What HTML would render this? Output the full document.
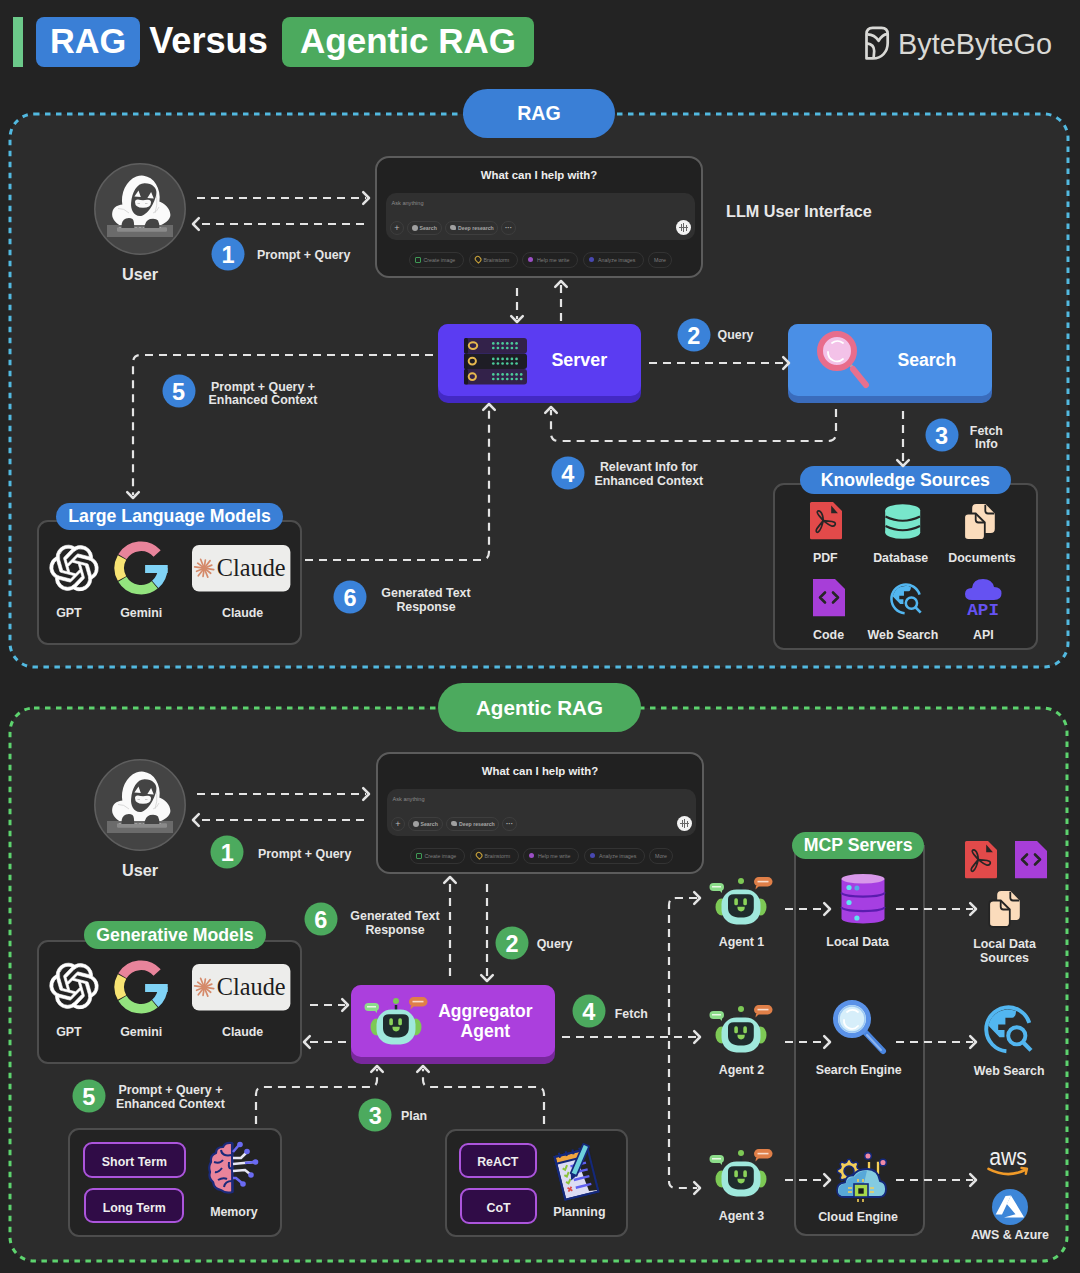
<!DOCTYPE html>
<html><head><meta charset="utf-8"><style>
*{margin:0;padding:0;box-sizing:border-box}
html,body{width:1080px;height:1273px;overflow:hidden;background:#232323}
body{position:relative;font-family:"Liberation Sans",sans-serif;color:#e8e8e8;font-weight:bold}
.a{position:absolute}
.c{position:absolute;transform:translate(-50%,calc(-50% + 0.6px));white-space:nowrap;text-align:center}
.l{position:absolute;transform:translate(0,calc(-50% + 0.6px));white-space:nowrap}
.lbl{font-size:12.4px;line-height:14px;color:#e6e6e6}
.num{position:absolute;width:33px;height:33px;border-radius:50%;transform:translate(-50%,-50%);color:#fff;font-size:23.5px;line-height:35px;text-align:center}
.nb{background:#3a82d9}
.ng{background:#4caa5e}
.box{position:absolute;border:2px solid #4d4d4d;border-radius:11px;background:#232323}
.pill{position:absolute;border-radius:15px;color:#fff;font-size:17.7px;text-align:center;white-space:nowrap}
.pb{background:#3a7fd6}
.pg{background:#4caa5e}
.tag{position:absolute;border:2px solid #ac55dc;background:#300c47;border-radius:9px;color:#eee;font-size:12.4px;text-align:center}
svg{position:absolute;left:0;top:0;overflow:visible}
.chat{width:328px;height:122px;border:2px solid #5c5c5c;border-radius:14px;background:#212121}
.cb{border:1px solid #333;border-radius:8px}
.cbi{border-color:#3e3e3e}
.dot{position:absolute;top:3.5px;width:5px;height:5px;border-radius:3px}
.ct{position:absolute;top:3px;font-size:5.3px;line-height:6px;color:#7e7e7e;font-weight:normal;white-space:nowrap}
.ctb{color:#a6a6a6;font-weight:bold;font-size:5.2px}
</style></head><body>
<svg width="1080" height="1273">
  <rect x="10" y="114" width="1058" height="553" rx="24" fill="#2c2c2c" stroke="#52b9e0" stroke-width="3" stroke-dasharray="5.5 5.5"/>
  <rect x="10" y="708" width="1057" height="553" rx="24" fill="#2c2c2c" stroke="#5dd36e" stroke-width="3" stroke-dasharray="5.5 5.5"/>
</svg>
<div class="a" style="left:13px;top:17px;width:10px;height:50px;background:#6cc98a"></div>
<div class="a" style="left:36px;top:17px;width:104px;height:50px;background:#3a7fd6;border-radius:8px"></div>
<div class="c" style="left:88px;top:40.2px;font-size:34.3px;line-height:36px;color:#fff">RAG</div>
<div class="c" style="left:208.5px;top:40px;font-size:36.2px;line-height:36px;color:#fff">Versus</div>
<div class="a" style="left:282px;top:17px;width:252px;height:50px;background:#4caa5e;border-radius:8px"></div>
<div class="c" style="left:408px;top:40.2px;font-size:35px;line-height:36px;color:#fff">Agentic RAG</div>
<svg style="left:860px;top:22px" width="35" height="40" viewBox="0 0 35 40">
<path d="M6.5,36.4 V12 Q6.5,5.8 12.7,5.8 H21.5 Q27.7,5.8 27.7,12 V21 C27.7,30 21.5,36.4 13,36.4 Z" fill="none" stroke="#d9d9d6" stroke-width="2.7" stroke-linejoin="round"/>
<path d="M7.5,12.4 Q14.5,12.6 18.6,18.8 Q22.5,12.6 27,12.2" fill="none" stroke="#d9d9d6" stroke-width="2.7" stroke-linejoin="round"/>
<path d="M7,21.3 Q14.2,22.2 14.2,29 L13.6,36.2" fill="none" stroke="#d9d9d6" stroke-width="2.7"/>
</svg>
<div class="l" style="left:898px;top:43px;font-size:28.9px;line-height:32px;color:#d9d9d5;font-weight:normal">ByteByteGo</div>
<div class="pill pb" style="left:463px;top:89px;width:152px;height:49px;border-radius:25px;line-height:49px;font-size:19.6px">RAG</div>
<svg class="ic" style="left:94px;top:163px" width="92" height="92" viewBox="0 0 92 92">
<circle cx="46" cy="46" r="45.2" fill="#444" stroke="#5e5e5e" stroke-width="1.5"/>
<path d="M26,62.5 C21,59.5 17.5,55 18.2,50 C19,44 24,41.3 32,41.3 L64,38.3 C71,40 76.4,46 76.4,52 C76.4,57 70,61 64.5,63 Z" fill="#fafafa"/>
<ellipse cx="46.8" cy="36" rx="18.8" ry="23.5" transform="rotate(7 46.8 36)" fill="#fafafa"/>
<path d="M58,24 Q66,34 61,50" fill="none" stroke="#cfcfcf" stroke-width="0.8"/>
<path d="M24,45.5 Q30,45 35,50" fill="none" stroke="#cfcfcf" stroke-width="0.8"/>
<path d="M65,44 Q63,49 59,50" fill="none" stroke="#cfcfcf" stroke-width="0.7"/>
<path d="M50.4,20.2 C58,20 63.5,25 62.3,31 C61,40 53,53 46,53.1 C39.5,53 36.5,46 37.1,40 C38,29 43,20.3 50.4,20.2 Z" fill="#444"/>
<path d="M40.4,33.6 L44.5,27.4 L46.8,33.9 Z" fill="#fafafa"/>
<path d="M53.4,35 L57.1,29 L59.8,35.4 Z" fill="#fafafa"/>
<path d="M41,39 Q41,36.3 44,36.5 Q48.5,37.8 53,36.8 Q57,36.2 57,39.5 Q57,44.8 49,44.8 Q41,44.8 41,39 Z" fill="#fafafa"/>
<path d="M43.5,40.5 H46 M51,40.5 H53.5" stroke="#c4c4c4" stroke-width="0.9"/>
<rect x="13" y="62" width="66" height="12" fill="#6b6b6b"/>
<rect x="23" y="64.3" width="50" height="4.4" rx="1.2" fill="#8a8a8a"/>
<path d="M25,64.5 h2 M29,64.5 h2 M33,64.5 h2 M37,64.5 h2 M41,64.5 h2 M45,64.5 h2 M49,64.5 h2 M53,64.5 h2 M57,64.5 h2 M61,64.5 h2 M65,64.5 h2" stroke="#a0a0a0" stroke-width="1.2"/>
<path d="M27.5,65 Q27,57 32,55.5 Q36,54.5 38.5,56 Q40.5,58 40,65 Z" fill="#444"/>
<path d="M50.4,65 Q51,57.5 56,56 Q62,55 64,57.5 Q65.5,60 65.3,65 Z" fill="#444"/>
</svg>
<div class="c" style="left:140px;top:273px;font-size:16.3px;line-height:18px">User</div>
<div class="num nb" style="left:228px;top:253.7px">1</div>
<div class="l lbl" style="left:257px;top:253.9px;">Prompt + Query</div>

<div class="a chat" style="left:375px;top:156px">
  <div class="c" style="left:162px;top:17px;font-size:11.4px;line-height:13px;color:#eee">What can I help with?</div>
  <div class="a" style="left:9px;top:35px;width:309px;height:47px;background:#303030;border-radius:10px"></div>
  <div class="l" style="left:14.5px;top:45px;font-size:5.6px;line-height:7px;color:#8a8a8a;font-weight:normal">Ask anything</div>
  <div class="a cb cbi" style="left:13px;top:62.5px;width:14px;height:14px;border-radius:7px;font-size:9px;line-height:12px;text-align:center;color:#bbb;font-weight:normal">+</div>
  <div class="a cb cbi" style="left:30px;top:62.5px;width:35px;height:14px"><span class="dot" style="background:#a0a0a0;left:3.5px;top:3px;width:6px;height:6px"></span><span class="ct ctb" style="left:11.5px;top:3.5px">Search</span></div>
  <div class="a cb cbi" style="left:68px;top:62.5px;width:53px;height:14px"><span class="dot" style="background:#a0a0a0;left:3.5px;top:3px;width:6px;height:5.5px;border-radius:2px 3px 1px 3px"></span><span class="ct ctb" style="left:12px;top:3.5px">Deep research</span></div>
  <div class="a cb cbi" style="left:124px;top:62.5px;width:15px;height:14px;border-radius:7px;font-size:7px;line-height:11px;text-align:center;color:#bbb">&middot;&middot;&middot;</div>
  <div class="a" style="left:298.5px;top:62px;width:15px;height:15px;border-radius:8px;background:#f2f2f2"></div>
  <div class="a" style="left:301.5px;top:68.8px;width:9px;height:1.4px;background:#666"></div>
  <div class="a" style="left:303.5px;top:66px;width:1.3px;height:7px;background:#666"></div>
  <div class="a" style="left:306px;top:65px;width:1.3px;height:9px;background:#666"></div>
  <div class="a" style="left:308.5px;top:66.5px;width:1.3px;height:6px;background:#666"></div>
  <div class="a cb" style="left:31.5px;top:93.5px;width:55px;height:16px"><span class="dot" style="background:none;border:1.3px solid #3f9a55;left:5px;top:4px;width:6px;height:6px;border-radius:1px"></span><span class="ct" style="left:14px;top:4.5px">Create image</span></div>
  <div class="a cb" style="left:91.5px;top:93.5px;width:49px;height:16px"><span class="dot" style="background:none;border:1.3px solid #c9a23a;left:5px;top:3.8px;width:5.5px;height:6.5px;border-radius:3px 3px 3px 0;transform:rotate(-45deg)"></span><span class="ct" style="left:14px;top:4.5px">Brainstorm</span></div>
  <div class="a cb" style="left:145px;top:93.5px;width:56px;height:16px"><span class="dot" style="background:#9b4fc4;left:5px;top:4.5px"></span><span class="ct" style="left:14px;top:4.5px">Help me write</span></div>
  <div class="a cb" style="left:206px;top:93.5px;width:61px;height:16px"><span class="dot" style="background:#4848b0;left:5px;top:4.5px"></span><span class="ct" style="left:14px;top:4.5px">Analyze images</span></div>
  <div class="a cb" style="left:271px;top:93.5px;width:24px;height:16px"><span class="ct" style="left:5px;top:4.5px">More</span></div>
</div>
<div class="l" style="left:726px;top:209.7px;font-size:16.2px;line-height:18px">LLM User Interface</div>
<div class="a" style="left:437.5px;top:324px;width:203.5px;height:79px;background:#4329c4;border-radius:10px"></div>
<div class="a" style="left:437.5px;top:324px;width:203.5px;height:71.5px;background:#5b3cf2;border-radius:10px"></div>
<svg class="ic" style="left:463.6px;top:337.8px" width="63" height="47" viewBox="0 0 63 47"><rect x="0" y="0" width="63" height="15.5" rx="3" fill="#33224a"/><rect x="0" y="0" width="4" height="15.5" rx="1.5" fill="#1b1822"/><ellipse cx="9" cy="7.6" rx="4.2" ry="3.4" fill="none" stroke="#e6b84e" stroke-width="2"/><circle cx="29.30" cy="5.4" r="1.35" fill="#4ccb9a"/><circle cx="33.95" cy="5.4" r="1.35" fill="#4ccb9a"/><circle cx="38.60" cy="5.4" r="1.35" fill="#4ccb9a"/><circle cx="43.25" cy="5.4" r="1.35" fill="#4ccb9a"/><circle cx="47.90" cy="5.4" r="1.35" fill="#4ccb9a"/><circle cx="52.55" cy="5.4" r="1.35" fill="#4ccb9a"/><circle cx="29.30" cy="10.0" r="1.35" fill="#4ccb9a"/><circle cx="33.95" cy="10.0" r="1.35" fill="#4ccb9a"/><circle cx="38.60" cy="10.0" r="1.35" fill="#4ccb9a"/><circle cx="43.25" cy="10.0" r="1.35" fill="#4ccb9a"/><circle cx="47.90" cy="10.0" r="1.35" fill="#4ccb9a"/><circle cx="52.55" cy="10.0" r="1.35" fill="#4ccb9a"/><rect x="0" y="15.5" width="63" height="15.5" rx="3" fill="#1e1d25"/><rect x="0" y="15.5" width="4" height="15.5" rx="1.5" fill="#1b1822"/><ellipse cx="8.3" cy="23.1" rx="3.6" ry="3.4" fill="none" stroke="#e6b84e" stroke-width="2"/><circle cx="29.30" cy="20.9" r="1.35" fill="#4ccb9a"/><circle cx="33.95" cy="20.9" r="1.35" fill="#4ccb9a"/><circle cx="38.60" cy="20.9" r="1.35" fill="#4ccb9a"/><circle cx="43.25" cy="20.9" r="1.35" fill="#4ccb9a"/><circle cx="47.90" cy="20.9" r="1.35" fill="#4ccb9a"/><circle cx="52.55" cy="20.9" r="1.35" fill="#4ccb9a"/><circle cx="29.30" cy="25.5" r="1.35" fill="#4ccb9a"/><circle cx="33.95" cy="25.5" r="1.35" fill="#4ccb9a"/><circle cx="38.60" cy="25.5" r="1.35" fill="#4ccb9a"/><circle cx="43.25" cy="25.5" r="1.35" fill="#4ccb9a"/><circle cx="47.90" cy="25.5" r="1.35" fill="#4ccb9a"/><circle cx="52.55" cy="25.5" r="1.35" fill="#4ccb9a"/><rect x="0" y="31" width="63" height="15.5" rx="3" fill="#33224a"/><rect x="0" y="31" width="4" height="15.5" rx="1.5" fill="#1b1822"/><ellipse cx="8.3" cy="38.6" rx="3.6" ry="3.4" fill="none" stroke="#e6b84e" stroke-width="2"/><circle cx="29.30" cy="36.4" r="1.35" fill="#4ccb9a"/><circle cx="33.95" cy="36.4" r="1.35" fill="#4ccb9a"/><circle cx="38.60" cy="36.4" r="1.35" fill="#4ccb9a"/><circle cx="43.25" cy="36.4" r="1.35" fill="#4ccb9a"/><circle cx="47.90" cy="36.4" r="1.35" fill="#4ccb9a"/><circle cx="52.55" cy="36.4" r="1.35" fill="#4ccb9a"/><circle cx="57.20" cy="36.4" r="1.35" fill="#4ccb9a"/><circle cx="29.30" cy="41.0" r="1.35" fill="#4ccb9a"/><circle cx="33.95" cy="41.0" r="1.35" fill="#4ccb9a"/><circle cx="38.60" cy="41.0" r="1.35" fill="#4ccb9a"/><circle cx="43.25" cy="41.0" r="1.35" fill="#4ccb9a"/><circle cx="47.90" cy="41.0" r="1.35" fill="#4ccb9a"/><circle cx="52.55" cy="41.0" r="1.35" fill="#4ccb9a"/><circle cx="57.20" cy="41.0" r="1.35" fill="#4ccb9a"/></svg>
<div class="c" style="left:579.3px;top:359.3px;font-size:17.9px;line-height:20px;color:#fff">Server</div>
<div class="a" style="left:788px;top:324px;width:204px;height:79px;background:#3a6cbc;border-radius:10px"></div>
<div class="a" style="left:788px;top:324px;width:204px;height:71.5px;background:#4a8fe6;border-radius:10px"></div>
<svg class="ic" style="left:814.6px;top:328.6px" width="58" height="60" viewBox="0 0 58 60">
<line x1="34" y1="34" x2="51" y2="55" stroke="#aaa" stroke-width="3"/>
<line x1="38" y1="40" x2="51" y2="56" stroke="#e8708e" stroke-width="6" stroke-linecap="round"/>
<circle cx="22" cy="22" r="17" fill="#f3c2e8" stroke="#e86d8c" stroke-width="6"/>
<path d="M13,23 A9,9 0 0 0 28,30" fill="none" stroke="#fff" stroke-width="1.8" stroke-linecap="round"/>
<path d="M17,14 A9,9 0 0 1 28,14" fill="none" stroke="#fff" stroke-width="1.8" stroke-linecap="round"/>
</svg>
<div class="c" style="left:926.8px;top:359.3px;font-size:17.6px;line-height:20px;color:#fff">Search</div>
<div class="num nb" style="left:693.7px;top:335.4px">2</div>
<div class="l lbl" style="left:717.6px;top:333.7px;">Query</div>
<div class="num nb" style="left:178.6px;top:390.8px">5</div>
<div class="c lbl" style="left:263px;top:386px;">Prompt + Query +</div>
<div class="c lbl" style="left:263px;top:399.4px;">Enhanced Context</div>
<div class="num nb" style="left:941.6px;top:435px">3</div>
<div class="c lbl" style="left:986.4px;top:429.6px;">Fetch</div>
<div class="c lbl" style="left:986.4px;top:443.1px;">Info</div>
<div class="num nb" style="left:567.7px;top:472.5px">4</div>
<div class="c lbl" style="left:648.8px;top:465.5px;">Relevant Info for</div>
<div class="c lbl" style="left:648.8px;top:479.5px;">Enhanced Context</div>
<div class="num nb" style="left:350px;top:596.5px">6</div>
<div class="c lbl" style="left:426px;top:592px;">Generated Text</div>
<div class="c lbl" style="left:426px;top:606px;">Response</div>
<div class="box" style="left:37px;top:520px;width:265px;height:125px"></div>
<div class="pill pb" style="left:56px;top:502.5px;width:227px;height:27px;line-height:27px">Large Language Models</div>
<svg style="left:50.2px;top:543.5px" width="48" height="48" viewBox="0 0 24 24"><path d="M22.2819 9.8211a5.9847 5.9847 0 0 0-.5157-4.9108 6.0462 6.0462 0 0 0-6.5098-2.9A6.0651 6.0651 0 0 0 4.9807 4.1818a5.9847 5.9847 0 0 0-3.9977 2.9 6.0462 6.0462 0 0 0 .7427 7.0966 5.98 5.98 0 0 0 .511 4.9107 6.051 6.051 0 0 0 6.5146 2.9001A5.9847 5.9847 0 0 0 13.2599 24a6.0557 6.0557 0 0 0 5.7718-4.2058 5.9894 5.9894 0 0 0 3.9977-2.9001 6.0557 6.0557 0 0 0-.7475-7.0729zm-9.022 12.6081a4.4755 4.4755 0 0 1-2.8764-1.0408l.1419-.0804 4.7783-2.7582a.7948.7948 0 0 0 .3927-.6813v-6.7369l2.02 1.1686a.071.071 0 0 1 .038.052v5.5826a4.504 4.504 0 0 1-4.4945 4.4944zm-9.6607-4.1254a4.4708 4.4708 0 0 1-.5346-3.0137l.142.0852 4.783 2.7582a.7712.7712 0 0 0 .7806 0l5.8428-3.3685v2.3324a.0804.0804 0 0 1-.0332.0615L9.74 19.9502a4.4992 4.4992 0 0 1-6.1408-1.6464zM2.3408 7.8956a4.485 4.485 0 0 1 2.3655-1.9728V11.6a.7664.7664 0 0 0 .3879.6765l5.8144 3.3543-2.0201 1.1685a.0757.0757 0 0 1-.071 0l-4.8303-2.7865A4.504 4.504 0 0 1 2.3408 7.872zm16.5963 3.8558L13.1038 8.364 15.1192 7.2a.0757.0757 0 0 1 .071 0l4.8303 2.7913a4.4944 4.4944 0 0 1-.6765 8.1042v-5.6772a.79.79 0 0 0-.407-.667zm2.0107-3.0231l-.142-.0852-4.7735-2.7818a.7759.7759 0 0 0-.7854 0L9.409 9.2297V6.8974a.0662.0662 0 0 1 .0284-.0615l4.8303-2.7866a4.4992 4.4992 0 0 1 6.6802 4.66zM8.3065 12.863l-2.02-1.1638a.0804.0804 0 0 1-.038-.0567V6.0742a4.4992 4.4992 0 0 1 7.3757-3.4537l-.142.0805L8.704 5.459a.7948.7948 0 0 0-.3927.6813zm1.0976-2.3654l2.602-1.4998 2.6069 1.4998v2.9994l-2.5974 1.4997-2.6067-1.4997Z" transform="rotate(-16 12 12)" fill="#fff" stroke="#fff" stroke-width="0.3"/></svg>
<svg class="ic" style="left:108.6px;top:536px" width="64" height="64" viewBox="0 0 64 64"><path d="M13.40,20.82 A21.7,21.7 0 0 1 48.13,17.48" fill="none" stroke="#e8849b" stroke-width="9.6"/><path d="M13.02,42.52 A21.7,21.7 0 0 1 13.02,21.48" fill="none" stroke="#f7e373" stroke-width="9.6"/><path d="M45.66,48.86 A21.7,21.7 0 0 1 13.40,43.18" fill="none" stroke="#93e37e" stroke-width="9.6"/><rect x="36.1" y="29" width="22.6" height="8" fill="#80d3f6"/><path d="M53.70,32.00 A21.7,21.7 0 0 1 46.24,48.38" fill="none" stroke="#80d3f6" stroke-width="9.6"/></svg>
<svg class="ic" style="left:192px;top:545.2px" width="99" height="47" viewBox="0 0 99 47"><rect x="0" y="0" width="98.4" height="46.6" rx="7" fill="#ededeb"/>
<line x1="12.2" y1="23.2" x2="21.71" y2="24.54" stroke="#d58a6a" stroke-width="1.7" stroke-linecap="round"/><line x1="12.2" y1="23.2" x2="18.66" y2="28.25" stroke="#d58a6a" stroke-width="1.7" stroke-linecap="round"/><line x1="12.2" y1="23.2" x2="15.80" y2="32.10" stroke="#d58a6a" stroke-width="1.7" stroke-linecap="round"/><line x1="12.2" y1="23.2" x2="11.06" y2="31.32" stroke="#d58a6a" stroke-width="1.7" stroke-linecap="round"/><line x1="12.2" y1="23.2" x2="6.29" y2="30.76" stroke="#d58a6a" stroke-width="1.7" stroke-linecap="round"/><line x1="12.2" y1="23.2" x2="4.60" y2="26.27" stroke="#d58a6a" stroke-width="1.7" stroke-linecap="round"/><line x1="12.2" y1="23.2" x2="2.69" y2="21.86" stroke="#d58a6a" stroke-width="1.7" stroke-linecap="round"/><line x1="12.2" y1="23.2" x2="5.74" y2="18.15" stroke="#d58a6a" stroke-width="1.7" stroke-linecap="round"/><line x1="12.2" y1="23.2" x2="8.60" y2="14.30" stroke="#d58a6a" stroke-width="1.7" stroke-linecap="round"/><line x1="12.2" y1="23.2" x2="13.34" y2="15.08" stroke="#d58a6a" stroke-width="1.7" stroke-linecap="round"/><line x1="12.2" y1="23.2" x2="18.11" y2="15.64" stroke="#d58a6a" stroke-width="1.7" stroke-linecap="round"/><line x1="12.2" y1="23.2" x2="19.80" y2="20.13" stroke="#d58a6a" stroke-width="1.7" stroke-linecap="round"/>
<circle cx="12.2" cy="23.2" r="2.5" fill="#d58a6a"/>
<text x="24.8" y="30.7" font-family="Liberation Serif" font-weight="normal" font-size="24.3" fill="#1d1d1d">Claude</text></svg>
<div class="c lbl" style="left:68.9px;top:611.5px;">GPT</div>
<div class="c lbl" style="left:141.2px;top:611.5px;">Gemini</div>
<div class="c lbl" style="left:242.6px;top:611.5px;">Claude</div>
<div class="box" style="left:773px;top:483px;width:264.5px;height:167px"></div>
<div class="pill pb" style="left:800px;top:466px;width:210.6px;height:28px;line-height:28px">Knowledge Sources</div>
<svg class="ic" style="left:810.1px;top:502.4px" width="32" height="38" viewBox="0 0 32 38"><path d="M1.5,0 H23 L32,9 V36 Q32,37.3 30.5,37.3 H1.5 Q0,37.3 0,36 V1.5 Q0,0 1.5,0 Z" fill="#e24a4a"/>
<path d="M21.2,3.6 L27.9,11.2 H21.2 Z" fill="#262626"/>
<path d="M13.3,18.6 C10.5,15 6.5,11.5 7.3,9.8 C8.5,7.6 12.8,9.5 13.3,18.6 Z" fill="none" stroke="#262626" stroke-width="1.7" stroke-linejoin="round"/>
<path d="M13.3,18.6 C17,19.6 21.5,18.8 24.3,20.3 C26.6,21.8 24.6,25 21.5,24 C18.8,23 16,20.6 13.3,18.6 Z" fill="none" stroke="#262626" stroke-width="1.7" stroke-linejoin="round"/>
<path d="M13.3,18.6 C12.4,22.5 10.2,28.5 8.2,30 C6.3,31.2 5.5,28.6 7,26.5 C8.8,24 11.3,21 13.3,18.6 Z" fill="none" stroke="#262626" stroke-width="1.7" stroke-linejoin="round"/></svg>
<svg class="ic" style="left:885.2px;top:503.7px" width="36" height="35.5" viewBox="0 0 36 35.5"><ellipse cx="17.7" cy="6.5" rx="17.5" ry="6.3" fill="#78e6cb"/>
<rect x="0.2" y="6.5" width="35" height="22" fill="#78e6cb"/>
<ellipse cx="17.7" cy="28.5" rx="17.5" ry="6.3" fill="#78e6cb"/>
<path d="M0.5,12.5 Q17.7,21 35,12.5" fill="none" stroke="#242424" stroke-width="2"/>
<path d="M0.5,22 Q17.7,30.5 35,22" fill="none" stroke="#242424" stroke-width="2"/></svg>
<svg class="ic" style="left:964.3px;top:504.3px" width="31.5" height="36.5" viewBox="0 0 31.5 36.5"><g transform="translate(0,0.3)">
<path d="M12.2,-0.2 H21.5 L30.8,9.2 V24.8 Q30.8,28.8 26.8,28.8 H12.2 Q8.2,28.8 8.2,24.8 V3.8 Q8.2,-0.2 12.2,-0.2 Z" fill="#fbdcbc"/>
<path d="M21.3,0.5 V6.5 Q21.3,9.2 24,9.2 H30.3" fill="none" stroke="#242424" stroke-width="1.8"/>
<path d="M4.2,9.2 H11.7 L20.8,18.2 V31.7 Q20.8,35.7 16.8,35.7 H4.2 Q0.2,35.7 0.2,31.7 V13.2 Q0.2,9.2 4.2,9.2 Z" fill="#fbdcbc" stroke="#242424" stroke-width="1.8"/>
<path d="M11.7,9.8 V15.5 Q11.7,18.2 14.4,18.2 H20.3" fill="none" stroke="#242424" stroke-width="1.8"/>
</g></svg>
<svg class="ic" style="left:813.2px;top:579.4px" width="32" height="38" viewBox="0 0 32 38"><path d="M0,0 H22 L32,10 V37.3 H0 Z" fill="#a73ed8"/>
<path d="M12,13.5 L7,18.5 L12,23.5 M20,13.5 L25,18.5 L20,23.5" fill="none" stroke="#262626" stroke-width="2.6" stroke-linecap="round" stroke-linejoin="round"/></svg>
<svg style="left:889.8px;top:582.7px" width="32" height="32" viewBox="0 0 49 49"><path d="M45.3,17.9 A22,22 0 1 0 22.4,46.2" fill="none" stroke="#52b6f0" stroke-width="3.9"/>
<path d="M4.3,20.5 L15.5,32.2 L20.5,32.2 L20.5,25 L14.2,25 L14.2,19.4 L21.4,19.4 L21.4,12.8 L28.3,12.8 Q32,12 32,6.1 A20,20 0 0 0 4.3,20.5 Z" fill="#52b6f0"/>
<circle cx="32.8" cy="30.8" r="8.6" fill="none" stroke="#52b6f0" stroke-width="3.9"/>
<line x1="38.8" y1="37" x2="47" y2="45.4" stroke="#52b6f0" stroke-width="4.2"/></svg>
<svg class="ic" style="left:965.3px;top:579.4px" width="37" height="38" viewBox="0 0 37 38"><path d="M7,21 Q0,21 0,15 Q0,9 7,9 Q8,0 18,0 Q27,0 29,8 Q36.5,8 36.5,14.5 Q36.5,21 29,21 Z" fill="#6552f2"/>
<text x="2.3" y="36.2" font-family="Liberation Mono" font-weight="bold" font-size="16.5" fill="#6552f2" textLength="31.7" lengthAdjust="spacingAndGlyphs">API</text></svg>
<div class="c lbl" style="left:825.3px;top:557.3px;">PDF</div>
<div class="c lbl" style="left:900.7px;top:557.3px;">Database</div>
<div class="c lbl" style="left:982px;top:557.3px;">Documents</div>
<div class="c lbl" style="left:828.6px;top:634.1px;">Code</div>
<div class="c lbl" style="left:902.9px;top:634.1px;">Web Search</div>
<div class="c lbl" style="left:983.4px;top:634.1px;">API</div>
<div class="pill pg" style="left:438px;top:683px;width:203px;height:49px;border-radius:25px;line-height:49px;font-size:20.6px">Agentic RAG</div>
<svg class="ic" style="left:94px;top:759px" width="92" height="92" viewBox="0 0 92 92">
<circle cx="46" cy="46" r="45.2" fill="#444" stroke="#5e5e5e" stroke-width="1.5"/>
<path d="M26,62.5 C21,59.5 17.5,55 18.2,50 C19,44 24,41.3 32,41.3 L64,38.3 C71,40 76.4,46 76.4,52 C76.4,57 70,61 64.5,63 Z" fill="#fafafa"/>
<ellipse cx="46.8" cy="36" rx="18.8" ry="23.5" transform="rotate(7 46.8 36)" fill="#fafafa"/>
<path d="M58,24 Q66,34 61,50" fill="none" stroke="#cfcfcf" stroke-width="0.8"/>
<path d="M24,45.5 Q30,45 35,50" fill="none" stroke="#cfcfcf" stroke-width="0.8"/>
<path d="M65,44 Q63,49 59,50" fill="none" stroke="#cfcfcf" stroke-width="0.7"/>
<path d="M50.4,20.2 C58,20 63.5,25 62.3,31 C61,40 53,53 46,53.1 C39.5,53 36.5,46 37.1,40 C38,29 43,20.3 50.4,20.2 Z" fill="#444"/>
<path d="M40.4,33.6 L44.5,27.4 L46.8,33.9 Z" fill="#fafafa"/>
<path d="M53.4,35 L57.1,29 L59.8,35.4 Z" fill="#fafafa"/>
<path d="M41,39 Q41,36.3 44,36.5 Q48.5,37.8 53,36.8 Q57,36.2 57,39.5 Q57,44.8 49,44.8 Q41,44.8 41,39 Z" fill="#fafafa"/>
<path d="M43.5,40.5 H46 M51,40.5 H53.5" stroke="#c4c4c4" stroke-width="0.9"/>
<rect x="13" y="62" width="66" height="12" fill="#6b6b6b"/>
<rect x="23" y="64.3" width="50" height="4.4" rx="1.2" fill="#8a8a8a"/>
<path d="M25,64.5 h2 M29,64.5 h2 M33,64.5 h2 M37,64.5 h2 M41,64.5 h2 M45,64.5 h2 M49,64.5 h2 M53,64.5 h2 M57,64.5 h2 M61,64.5 h2 M65,64.5 h2" stroke="#a0a0a0" stroke-width="1.2"/>
<path d="M27.5,65 Q27,57 32,55.5 Q36,54.5 38.5,56 Q40.5,58 40,65 Z" fill="#444"/>
<path d="M50.4,65 Q51,57.5 56,56 Q62,55 64,57.5 Q65.5,60 65.3,65 Z" fill="#444"/>
</svg>
<div class="c" style="left:140px;top:869px;font-size:16.3px;line-height:18px">User</div>
<div class="num ng" style="left:227.2px;top:852.4px">1</div>
<div class="l lbl" style="left:258px;top:852.6px;">Prompt + Query</div>

<div class="a chat" style="left:376px;top:752px">
  <div class="c" style="left:162px;top:17px;font-size:11.4px;line-height:13px;color:#eee">What can I help with?</div>
  <div class="a" style="left:9px;top:35px;width:309px;height:47px;background:#303030;border-radius:10px"></div>
  <div class="l" style="left:14.5px;top:45px;font-size:5.6px;line-height:7px;color:#8a8a8a;font-weight:normal">Ask anything</div>
  <div class="a cb cbi" style="left:13px;top:62.5px;width:14px;height:14px;border-radius:7px;font-size:9px;line-height:12px;text-align:center;color:#bbb;font-weight:normal">+</div>
  <div class="a cb cbi" style="left:30px;top:62.5px;width:35px;height:14px"><span class="dot" style="background:#a0a0a0;left:3.5px;top:3px;width:6px;height:6px"></span><span class="ct ctb" style="left:11.5px;top:3.5px">Search</span></div>
  <div class="a cb cbi" style="left:68px;top:62.5px;width:53px;height:14px"><span class="dot" style="background:#a0a0a0;left:3.5px;top:3px;width:6px;height:5.5px;border-radius:2px 3px 1px 3px"></span><span class="ct ctb" style="left:12px;top:3.5px">Deep research</span></div>
  <div class="a cb cbi" style="left:124px;top:62.5px;width:15px;height:14px;border-radius:7px;font-size:7px;line-height:11px;text-align:center;color:#bbb">&middot;&middot;&middot;</div>
  <div class="a" style="left:298.5px;top:62px;width:15px;height:15px;border-radius:8px;background:#f2f2f2"></div>
  <div class="a" style="left:301.5px;top:68.8px;width:9px;height:1.4px;background:#666"></div>
  <div class="a" style="left:303.5px;top:66px;width:1.3px;height:7px;background:#666"></div>
  <div class="a" style="left:306px;top:65px;width:1.3px;height:9px;background:#666"></div>
  <div class="a" style="left:308.5px;top:66.5px;width:1.3px;height:6px;background:#666"></div>
  <div class="a cb" style="left:31.5px;top:93.5px;width:55px;height:16px"><span class="dot" style="background:none;border:1.3px solid #3f9a55;left:5px;top:4px;width:6px;height:6px;border-radius:1px"></span><span class="ct" style="left:14px;top:4.5px">Create image</span></div>
  <div class="a cb" style="left:91.5px;top:93.5px;width:49px;height:16px"><span class="dot" style="background:none;border:1.3px solid #c9a23a;left:5px;top:3.8px;width:5.5px;height:6.5px;border-radius:3px 3px 3px 0;transform:rotate(-45deg)"></span><span class="ct" style="left:14px;top:4.5px">Brainstorm</span></div>
  <div class="a cb" style="left:145px;top:93.5px;width:56px;height:16px"><span class="dot" style="background:#9b4fc4;left:5px;top:4.5px"></span><span class="ct" style="left:14px;top:4.5px">Help me write</span></div>
  <div class="a cb" style="left:206px;top:93.5px;width:61px;height:16px"><span class="dot" style="background:#4848b0;left:5px;top:4.5px"></span><span class="ct" style="left:14px;top:4.5px">Analyze images</span></div>
  <div class="a cb" style="left:271px;top:93.5px;width:24px;height:16px"><span class="ct" style="left:5px;top:4.5px">More</span></div>
</div>
<div class="num ng" style="left:320.8px;top:919px">6</div>
<div class="c lbl" style="left:395px;top:914.5px;">Generated Text</div>
<div class="c lbl" style="left:395px;top:929px;">Response</div>
<div class="num ng" style="left:512px;top:943px">2</div>
<div class="l lbl" style="left:536.7px;top:943px;">Query</div>
<div class="box" style="left:37px;top:940px;width:265px;height:124px"></div>
<div class="pill pg" style="left:84px;top:921px;width:182px;height:28px;line-height:28px">Generative Models</div>
<svg style="left:50.400000000000006px;top:962.4px" width="48" height="48" viewBox="0 0 24 24"><path d="M22.2819 9.8211a5.9847 5.9847 0 0 0-.5157-4.9108 6.0462 6.0462 0 0 0-6.5098-2.9A6.0651 6.0651 0 0 0 4.9807 4.1818a5.9847 5.9847 0 0 0-3.9977 2.9 6.0462 6.0462 0 0 0 .7427 7.0966 5.98 5.98 0 0 0 .511 4.9107 6.051 6.051 0 0 0 6.5146 2.9001A5.9847 5.9847 0 0 0 13.2599 24a6.0557 6.0557 0 0 0 5.7718-4.2058 5.9894 5.9894 0 0 0 3.9977-2.9001 6.0557 6.0557 0 0 0-.7475-7.0729zm-9.022 12.6081a4.4755 4.4755 0 0 1-2.8764-1.0408l.1419-.0804 4.7783-2.7582a.7948.7948 0 0 0 .3927-.6813v-6.7369l2.02 1.1686a.071.071 0 0 1 .038.052v5.5826a4.504 4.504 0 0 1-4.4945 4.4944zm-9.6607-4.1254a4.4708 4.4708 0 0 1-.5346-3.0137l.142.0852 4.783 2.7582a.7712.7712 0 0 0 .7806 0l5.8428-3.3685v2.3324a.0804.0804 0 0 1-.0332.0615L9.74 19.9502a4.4992 4.4992 0 0 1-6.1408-1.6464zM2.3408 7.8956a4.485 4.485 0 0 1 2.3655-1.9728V11.6a.7664.7664 0 0 0 .3879.6765l5.8144 3.3543-2.0201 1.1685a.0757.0757 0 0 1-.071 0l-4.8303-2.7865A4.504 4.504 0 0 1 2.3408 7.872zm16.5963 3.8558L13.1038 8.364 15.1192 7.2a.0757.0757 0 0 1 .071 0l4.8303 2.7913a4.4944 4.4944 0 0 1-.6765 8.1042v-5.6772a.79.79 0 0 0-.407-.667zm2.0107-3.0231l-.142-.0852-4.7735-2.7818a.7759.7759 0 0 0-.7854 0L9.409 9.2297V6.8974a.0662.0662 0 0 1 .0284-.0615l4.8303-2.7866a4.4992 4.4992 0 0 1 6.6802 4.66zM8.3065 12.863l-2.02-1.1638a.0804.0804 0 0 1-.038-.0567V6.0742a4.4992 4.4992 0 0 1 7.3757-3.4537l-.142.0805L8.704 5.459a.7948.7948 0 0 0-.3927.6813zm1.0976-2.3654l2.602-1.4998 2.6069 1.4998v2.9994l-2.5974 1.4997-2.6067-1.4997Z" transform="rotate(-16 12 12)" fill="#fff" stroke="#fff" stroke-width="0.3"/></svg>
<svg class="ic" style="left:108.6px;top:955.2px" width="64" height="64" viewBox="0 0 64 64"><path d="M13.40,20.82 A21.7,21.7 0 0 1 48.13,17.48" fill="none" stroke="#e8849b" stroke-width="9.6"/><path d="M13.02,42.52 A21.7,21.7 0 0 1 13.02,21.48" fill="none" stroke="#f7e373" stroke-width="9.6"/><path d="M45.66,48.86 A21.7,21.7 0 0 1 13.40,43.18" fill="none" stroke="#93e37e" stroke-width="9.6"/><rect x="36.1" y="29" width="22.6" height="8" fill="#80d3f6"/><path d="M53.70,32.00 A21.7,21.7 0 0 1 46.24,48.38" fill="none" stroke="#80d3f6" stroke-width="9.6"/></svg>
<svg class="ic" style="left:192px;top:964.4px" width="99" height="47" viewBox="0 0 99 47"><rect x="0" y="0" width="98.4" height="46.6" rx="7" fill="#ededeb"/>
<line x1="12.2" y1="23.2" x2="21.71" y2="24.54" stroke="#d58a6a" stroke-width="1.7" stroke-linecap="round"/><line x1="12.2" y1="23.2" x2="18.66" y2="28.25" stroke="#d58a6a" stroke-width="1.7" stroke-linecap="round"/><line x1="12.2" y1="23.2" x2="15.80" y2="32.10" stroke="#d58a6a" stroke-width="1.7" stroke-linecap="round"/><line x1="12.2" y1="23.2" x2="11.06" y2="31.32" stroke="#d58a6a" stroke-width="1.7" stroke-linecap="round"/><line x1="12.2" y1="23.2" x2="6.29" y2="30.76" stroke="#d58a6a" stroke-width="1.7" stroke-linecap="round"/><line x1="12.2" y1="23.2" x2="4.60" y2="26.27" stroke="#d58a6a" stroke-width="1.7" stroke-linecap="round"/><line x1="12.2" y1="23.2" x2="2.69" y2="21.86" stroke="#d58a6a" stroke-width="1.7" stroke-linecap="round"/><line x1="12.2" y1="23.2" x2="5.74" y2="18.15" stroke="#d58a6a" stroke-width="1.7" stroke-linecap="round"/><line x1="12.2" y1="23.2" x2="8.60" y2="14.30" stroke="#d58a6a" stroke-width="1.7" stroke-linecap="round"/><line x1="12.2" y1="23.2" x2="13.34" y2="15.08" stroke="#d58a6a" stroke-width="1.7" stroke-linecap="round"/><line x1="12.2" y1="23.2" x2="18.11" y2="15.64" stroke="#d58a6a" stroke-width="1.7" stroke-linecap="round"/><line x1="12.2" y1="23.2" x2="19.80" y2="20.13" stroke="#d58a6a" stroke-width="1.7" stroke-linecap="round"/>
<circle cx="12.2" cy="23.2" r="2.5" fill="#d58a6a"/>
<text x="24.8" y="30.7" font-family="Liberation Serif" font-weight="normal" font-size="24.3" fill="#1d1d1d">Claude</text></svg>
<div class="c lbl" style="left:68.9px;top:1031.3px;">GPT</div>
<div class="c lbl" style="left:141.2px;top:1031.3px;">Gemini</div>
<div class="c lbl" style="left:242.6px;top:1031.3px;">Claude</div>
<div class="a" style="left:351px;top:985px;width:204px;height:79px;background:#78289c;border-radius:10px"></div>
<div class="a" style="left:351px;top:985px;width:204px;height:71.5px;background:#ab3fdd;border-radius:10px"></div>
<svg class="ic" style="left:362px;top:992.7px" width="68" height="68" viewBox="0 0 68 68">
<ellipse cx="14.5" cy="34" rx="6" ry="8.5" fill="#7dc955"/>
<ellipse cx="53.5" cy="34" rx="6" ry="8.5" fill="#7dc955"/>
<line x1="34" y1="12" x2="34" y2="17.5" stroke="#1e2b2c" stroke-width="2.5"/>
<circle cx="34" cy="8" r="3" fill="#7dc955"/>
<rect x="14.5" y="16.5" width="39" height="35" rx="15" fill="#9fe8dc"/>
<path d="M21,26 Q21,21.2 27,21.2 H41 Q46.8,21.2 46.8,26 V35 Q46.8,44.6 34,44.6 Q21,44.6 21,35 Z" fill="#1f2c2d"/>
<rect x="27.3" y="25.3" width="3.6" height="7" rx="1.6" fill="#8ad35a"/>
<rect x="36.3" y="25.3" width="3.6" height="7" rx="1.6" fill="#8ad35a"/>
<path d="M30.4,33.8 H37.8 Q37.8,38.4 34.1,38.4 Q30.4,38.4 30.4,33.8 Z" fill="#8ad35a"/>
<rect x="2.5" y="10" width="14.5" height="8" rx="4" fill="#8cdc8a"/>
<path d="M12,17 L15,20 L15,17 Z" fill="#8cdc8a"/>
<rect x="5" y="13" width="9" height="1.5" fill="#e9f9e6"/>
<rect x="47" y="4" width="18.5" height="9.5" rx="4.75" fill="#e07f48"/>
<path d="M49,13 L48.5,16.5 L52,13 Z" fill="#e07f48"/>
<rect x="50.5" y="7.8" width="11" height="1.6" fill="#f8dccc"/>
</svg>
<div class="c" style="left:485.4px;top:1009.9px;font-size:17.5px;line-height:20px;color:#fff">Aggregator</div>
<div class="c" style="left:485.4px;top:1030.3px;font-size:17.5px;line-height:20px;color:#fff">Agent</div>
<div class="num ng" style="left:588.7px;top:1010.5px">4</div>
<div class="l lbl" style="left:614.8px;top:1013px;">Fetch</div>
<div class="num ng" style="left:88.9px;top:1096px">5</div>
<div class="c lbl" style="left:170.4px;top:1089.3px;">Prompt + Query +</div>
<div class="c lbl" style="left:170.4px;top:1102.9px;">Enhanced Context</div>
<div class="num ng" style="left:375.3px;top:1115.3px">3</div>
<div class="l lbl" style="left:401px;top:1115px;">Plan</div>
<div class="box" style="left:68.4px;top:1128.2px;width:213.4px;height:108.5px"></div>
<div class="tag" style="left:82.7px;top:1142.2px;width:103.5px;height:36px;line-height:32px;padding-top:1.8px">Short Term</div>
<div class="tag" style="left:84.4px;top:1187.8px;width:99.6px;height:35.5px;line-height:32px;padding-top:1.8px">Long Term</div>
<svg class="ic" style="left:207.5px;top:1141.2px" width="54" height="54" viewBox="0 0 54 54">
<path d="M24,2 Q17,1 15,6 Q8,6 8,12 Q2,14 3,21 Q0,26 2,31 Q0,37 5,41 Q6,48 13,49 Q18,53 24.5,51 Z" fill="#e9849b" stroke="#1b2a7a" stroke-width="2.2" stroke-linejoin="round"/>
<path d="M24.5,2 V51" stroke="#1b2a7a" stroke-width="2.2"/>
<path d="M13,9 Q14,16 24,14" fill="none" stroke="#1b2a7a" stroke-width="2"/>
<path d="M6,21 Q12,23 15,19 M14,27 Q10,32 7,31 M21,21 Q20,29 24,27 M10,39 Q15,36 19,38 M16,46 Q17,40 24,40" fill="none" stroke="#1b2a7a" stroke-width="2"/>
<path d="M25,11 L31,4" stroke="#6a6af2" stroke-width="2.6"/><circle cx="32" cy="3.5" r="2.8" fill="#6a6af2"/>
<path d="M25,17 H33 L38,12" stroke="#e6e6f4" stroke-width="2.6" fill="none"/><circle cx="39" cy="10.5" r="2.8" fill="#6a6af2"/>
<path d="M25,23 L46,21" stroke="#e6e6f4" stroke-width="2.6"/><path d="M37,22 L46,21" stroke="#6a6af2" stroke-width="2.6"/><circle cx="47.5" cy="21" r="2.8" fill="#6a6af2"/>
<path d="M25,30 L37,29 L42,33" stroke="#e6e6f4" stroke-width="2.6" fill="none"/><circle cx="43" cy="34" r="2.8" fill="#6a6af2"/>
<path d="M25,37 H28 L34,42" stroke="#6a6af2" stroke-width="2.6" fill="none"/><circle cx="35" cy="43" r="2.8" fill="#6a6af2"/>
</svg>
<div class="c lbl" style="left:233.9px;top:1211px;">Memory</div>
<div class="box" style="left:445px;top:1128.6px;width:182.5px;height:108.4px"></div>
<div class="tag" style="left:458.9px;top:1142.5px;width:77.8px;height:35.5px;line-height:32px;padding-top:1.5px">ReACT</div>
<div class="tag" style="left:460.3px;top:1187.8px;width:76.4px;height:35.8px;line-height:32px;padding-top:2px">CoT</div>
<svg class="ic" style="left:554.1px;top:1144.4px" width="48" height="56" viewBox="0 0 48 56">
<g transform="rotate(-14 23 28)">
<rect x="5" y="8" width="34" height="44" fill="#dcdcf4" stroke="#14287a" stroke-width="2"/>
<rect x="5" y="8" width="34" height="7" fill="#f0a640" stroke="#14287a" stroke-width="2"/>
<path d="M10,5 V10 M17,5 V10 M24,5 V10 M31,5 V10" stroke="#14287a" stroke-width="2"/>
</g>
<path d="M24,18 L33,6 L36,4 L44,46 L35,47 Z" fill="#222"/>
<g transform="rotate(-14 23 28)">
<path d="M10,21 L12,23 L15,19 M10,28 L12,30 L15,26 M10,35 L12,37 L15,33" fill="none" stroke="#8cc43a" stroke-width="2"/>
<path d="M10,41 L14,45 M14,41 L10,45" stroke="#e04a4a" stroke-width="1.8"/>
<path d="M18,21 H34 M18,28 H34 M18,35 H34 M18,43 H34" stroke="#6060f0" stroke-width="2.4"/>
<path d="M5,8 H39 V52 H5 Z" fill="none" stroke="#14287a" stroke-width="2"/>
</g>
<path d="M29.3,-0.2 L35.1,2.4 L22.5,31.8 L16.7,29.2 Z" fill="#6dd0dc" stroke="#14287a" stroke-width="1.7" stroke-linejoin="round"/>
<path d="M16.7,29.2 L22.5,31.8 L17.2,36.6 Z" fill="#14287a"/>
</svg>
<div class="c lbl" style="left:579.3px;top:1211px;">Planning</div>
<div class="a" style="left:794px;top:845px;width:130.5px;height:391px;border:2px solid #505050;border-top:none;border-radius:0 0 12px 12px;background:#242424"></div>
<div class="pill pg" style="left:792px;top:831.7px;width:132.4px;height:27.4px;line-height:27.4px">MCP Servers</div>
<svg class="ic" style="left:841.2px;top:872.8px" width="44" height="52" viewBox="0 0 44 52">
<path d="M0.5,6 V45.5 C0.5,52 43.5,52 43.5,45.5 V6 Z" fill="#a63fe2"/>
<ellipse cx="22" cy="5.8" rx="21.5" ry="4.8" fill="#d898ea"/>
<path d="M0.5,19.5 C1,25 43,25 43.5,19.5 M0.5,34 C1,39.5 43,39.5 43.5,34" fill="none" stroke="#5a1cae" stroke-width="2.2"/>
<circle cx="8" cy="14.5" r="2.6" fill="#5ee6f0"/><circle cx="15.9" cy="15" r="2.5" fill="#55a8e8"/>
<circle cx="8" cy="29.5" r="2.6" fill="#5ee6f0"/>
<circle cx="15.9" cy="45" r="2.6" fill="#5ee6f0"/>
</svg>
<div class="c lbl" style="left:857.7px;top:941px;">Local Data</div>
<svg class="ic" style="left:831px;top:998px" width="56" height="56" viewBox="0 0 56 56">
<line x1="34" y1="34" x2="52" y2="53" stroke="#4a86e0" stroke-width="6" stroke-linecap="round"/>
<line x1="36" y1="37" x2="50" y2="52" stroke="#8bb4f0" stroke-width="2" stroke-linecap="round"/>
<circle cx="21" cy="21" r="16.5" fill="#d6eefa" stroke="#5a92e8" stroke-width="5"/>
<circle cx="21" cy="21" r="13" fill="none" stroke="#9cc8f4" stroke-width="1.5"/>
<path d="M13,22 A8,8 0 0 0 27,28" fill="none" stroke="#fff" stroke-width="1.8" stroke-linecap="round"/>
<path d="M16,14 A8,8 0 0 1 27,14" fill="none" stroke="#fff" stroke-width="1.8" stroke-linecap="round"/>
</svg>
<div class="c lbl" style="left:858.7px;top:1069.2px;">Search Engine</div>
<svg class="ic" style="left:837.2px;top:1150px" width="50" height="53" viewBox="0 0 50 53">
<path d="M10.80,9.56 L13.20,9.56 L14.56,12.37 L16.29,13.09 L19.24,12.06 L20.94,13.76 L19.91,16.71 L20.63,18.44 L23.44,19.80 L23.44,22.20 L20.63,23.56 L19.91,25.29 L20.94,28.24 L19.24,29.94 L16.29,28.91 L14.56,29.63 L13.20,32.44 L10.80,32.44 L9.44,29.63 L7.71,28.91 L4.76,29.94 L3.06,28.24 L4.09,25.29 L3.37,23.56 L0.56,22.20 L0.56,19.80 L3.37,18.44 L4.09,16.71 L3.06,13.76 L4.76,12.06 L7.71,13.09 L9.44,12.37 Z" fill="#f4cf58" stroke="#14287a" stroke-width="1.5" stroke-linejoin="round"/><circle cx="12" cy="21" r="5" fill="#2a2a2a" stroke="#14287a" stroke-width="1.5"/>
<path d="M32,22 V12 M41,24 V13 H44" stroke="#f4cf58" stroke-width="2.3" fill="none"/>
<circle cx="31" cy="6" r="3.3" fill="#f08aa6" stroke="#14287a" stroke-width="1.5"/>
<circle cx="46" cy="12.5" r="3.3" fill="#f08aa6" stroke="#14287a" stroke-width="1.5"/>
<path d="M7,47 Q0,47 0,40 Q0,33 8,32.5 Q9,25 16,25.5 Q20,19 30,19 Q41,19 43,31 Q49,32 49,39 Q49,47 42,47 Z" fill="#84cbe0" stroke="#14287a" stroke-width="1.8"/>
<path d="M7,46 Q1,46 1.5,40 Q2,34 9,33.5 Q10,27 17,27 Q22,20.5 30,20.5 L24,46 Z" fill="#58a8d8"/>
<rect x="17" y="34" width="14" height="13" fill="#a6d84c" stroke="#14287a" stroke-width="1.6"/>
<rect x="21.3" y="38.3" width="5.4" height="5.4" fill="#1a1a1a"/>
<path d="M11,38 H15 M11,42 H15 M33,38 H37 M33,42 H37 M21,29 V32 M26,29 V32 M21,49 V52 M26,49 V52" stroke="#f4cf58" stroke-width="1.6"/>
</svg>
<div class="c lbl" style="left:858.1px;top:1215.6px;">Cloud Engine</div>
<svg class="ic" style="left:707.2px;top:873.4px" width="68" height="68" viewBox="0 0 68 68">
<ellipse cx="14.5" cy="34" rx="6" ry="8.5" fill="#7dc955"/>
<ellipse cx="53.5" cy="34" rx="6" ry="8.5" fill="#7dc955"/>
<line x1="34" y1="12" x2="34" y2="17.5" stroke="#1e2b2c" stroke-width="2.5"/>
<circle cx="34" cy="8" r="3" fill="#7dc955"/>
<rect x="14.5" y="16.5" width="39" height="35" rx="15" fill="#9fe8dc"/>
<path d="M21,26 Q21,21.2 27,21.2 H41 Q46.8,21.2 46.8,26 V35 Q46.8,44.6 34,44.6 Q21,44.6 21,35 Z" fill="#1f2c2d"/>
<rect x="27.3" y="25.3" width="3.6" height="7" rx="1.6" fill="#8ad35a"/>
<rect x="36.3" y="25.3" width="3.6" height="7" rx="1.6" fill="#8ad35a"/>
<path d="M30.4,33.8 H37.8 Q37.8,38.4 34.1,38.4 Q30.4,38.4 30.4,33.8 Z" fill="#8ad35a"/>
<rect x="2.5" y="10" width="14.5" height="8" rx="4" fill="#8cdc8a"/>
<path d="M12,17 L15,20 L15,17 Z" fill="#8cdc8a"/>
<rect x="5" y="13" width="9" height="1.5" fill="#e9f9e6"/>
<rect x="47" y="4" width="18.5" height="9.5" rx="4.75" fill="#e07f48"/>
<path d="M49,13 L48.5,16.5 L52,13 Z" fill="#e07f48"/>
<rect x="50.5" y="7.8" width="11" height="1.6" fill="#f8dccc"/>
</svg>
<div class="c lbl" style="left:741.5px;top:941px;">Agent 1</div>
<svg class="ic" style="left:707.2px;top:1001px" width="68" height="68" viewBox="0 0 68 68">
<ellipse cx="14.5" cy="34" rx="6" ry="8.5" fill="#7dc955"/>
<ellipse cx="53.5" cy="34" rx="6" ry="8.5" fill="#7dc955"/>
<line x1="34" y1="12" x2="34" y2="17.5" stroke="#1e2b2c" stroke-width="2.5"/>
<circle cx="34" cy="8" r="3" fill="#7dc955"/>
<rect x="14.5" y="16.5" width="39" height="35" rx="15" fill="#9fe8dc"/>
<path d="M21,26 Q21,21.2 27,21.2 H41 Q46.8,21.2 46.8,26 V35 Q46.8,44.6 34,44.6 Q21,44.6 21,35 Z" fill="#1f2c2d"/>
<rect x="27.3" y="25.3" width="3.6" height="7" rx="1.6" fill="#8ad35a"/>
<rect x="36.3" y="25.3" width="3.6" height="7" rx="1.6" fill="#8ad35a"/>
<path d="M30.4,33.8 H37.8 Q37.8,38.4 34.1,38.4 Q30.4,38.4 30.4,33.8 Z" fill="#8ad35a"/>
<rect x="2.5" y="10" width="14.5" height="8" rx="4" fill="#8cdc8a"/>
<path d="M12,17 L15,20 L15,17 Z" fill="#8cdc8a"/>
<rect x="5" y="13" width="9" height="1.5" fill="#e9f9e6"/>
<rect x="47" y="4" width="18.5" height="9.5" rx="4.75" fill="#e07f48"/>
<path d="M49,13 L48.5,16.5 L52,13 Z" fill="#e07f48"/>
<rect x="50.5" y="7.8" width="11" height="1.6" fill="#f8dccc"/>
</svg>
<div class="c lbl" style="left:741.5px;top:1069.2px;">Agent 2</div>
<svg class="ic" style="left:707.2px;top:1144.6px" width="68" height="68" viewBox="0 0 68 68">
<ellipse cx="14.5" cy="34" rx="6" ry="8.5" fill="#7dc955"/>
<ellipse cx="53.5" cy="34" rx="6" ry="8.5" fill="#7dc955"/>
<line x1="34" y1="12" x2="34" y2="17.5" stroke="#1e2b2c" stroke-width="2.5"/>
<circle cx="34" cy="8" r="3" fill="#7dc955"/>
<rect x="14.5" y="16.5" width="39" height="35" rx="15" fill="#9fe8dc"/>
<path d="M21,26 Q21,21.2 27,21.2 H41 Q46.8,21.2 46.8,26 V35 Q46.8,44.6 34,44.6 Q21,44.6 21,35 Z" fill="#1f2c2d"/>
<rect x="27.3" y="25.3" width="3.6" height="7" rx="1.6" fill="#8ad35a"/>
<rect x="36.3" y="25.3" width="3.6" height="7" rx="1.6" fill="#8ad35a"/>
<path d="M30.4,33.8 H37.8 Q37.8,38.4 34.1,38.4 Q30.4,38.4 30.4,33.8 Z" fill="#8ad35a"/>
<rect x="2.5" y="10" width="14.5" height="8" rx="4" fill="#8cdc8a"/>
<path d="M12,17 L15,20 L15,17 Z" fill="#8cdc8a"/>
<rect x="5" y="13" width="9" height="1.5" fill="#e9f9e6"/>
<rect x="47" y="4" width="18.5" height="9.5" rx="4.75" fill="#e07f48"/>
<path d="M49,13 L48.5,16.5 L52,13 Z" fill="#e07f48"/>
<rect x="50.5" y="7.8" width="11" height="1.6" fill="#f8dccc"/>
</svg>
<div class="c lbl" style="left:741.5px;top:1214.8px;">Agent 3</div>
<svg class="ic" style="left:965.2px;top:840.6px" width="32" height="38" viewBox="0 0 32 38"><path d="M1.5,0 H23 L32,9 V36 Q32,37.3 30.5,37.3 H1.5 Q0,37.3 0,36 V1.5 Q0,0 1.5,0 Z" fill="#e24a4a"/>
<path d="M21.2,3.6 L27.9,11.2 H21.2 Z" fill="#262626"/>
<path d="M13.3,18.6 C10.5,15 6.5,11.5 7.3,9.8 C8.5,7.6 12.8,9.5 13.3,18.6 Z" fill="none" stroke="#262626" stroke-width="1.7" stroke-linejoin="round"/>
<path d="M13.3,18.6 C17,19.6 21.5,18.8 24.3,20.3 C26.6,21.8 24.6,25 21.5,24 C18.8,23 16,20.6 13.3,18.6 Z" fill="none" stroke="#262626" stroke-width="1.7" stroke-linejoin="round"/>
<path d="M13.3,18.6 C12.4,22.5 10.2,28.5 8.2,30 C6.3,31.2 5.5,28.6 7,26.5 C8.8,24 11.3,21 13.3,18.6 Z" fill="none" stroke="#262626" stroke-width="1.7" stroke-linejoin="round"/></svg>
<svg class="ic" style="left:1015.2px;top:840.6px" width="32" height="38" viewBox="0 0 32 38"><path d="M0,0 H22 L32,10 V37.3 H0 Z" fill="#a73ed8"/>
<path d="M12,13.5 L7,18.5 L12,23.5 M20,13.5 L25,18.5 L20,23.5" fill="none" stroke="#262626" stroke-width="2.6" stroke-linecap="round" stroke-linejoin="round"/></svg>
<svg class="ic" style="left:988.8px;top:890.8px" width="31.5" height="36.5" viewBox="0 0 31.5 36.5"><g transform="translate(0,0.3)">
<path d="M12.2,-0.2 H21.5 L30.8,9.2 V24.8 Q30.8,28.8 26.8,28.8 H12.2 Q8.2,28.8 8.2,24.8 V3.8 Q8.2,-0.2 12.2,-0.2 Z" fill="#fbdcbc"/>
<path d="M21.3,0.5 V6.5 Q21.3,9.2 24,9.2 H30.3" fill="none" stroke="#242424" stroke-width="1.8"/>
<path d="M4.2,9.2 H11.7 L20.8,18.2 V31.7 Q20.8,35.7 16.8,35.7 H4.2 Q0.2,35.7 0.2,31.7 V13.2 Q0.2,9.2 4.2,9.2 Z" fill="#fbdcbc" stroke="#242424" stroke-width="1.8"/>
<path d="M11.7,9.8 V15.5 Q11.7,18.2 14.4,18.2 H20.3" fill="none" stroke="#242424" stroke-width="1.8"/>
</g></svg>
<div class="c lbl" style="left:1004.5px;top:943.2px;">Local Data</div>
<div class="c lbl" style="left:1004.5px;top:956.6px;">Sources</div>
<svg style="left:983.5px;top:1004.8px" width="49" height="49" viewBox="0 0 49 49"><path d="M45.3,17.9 A22,22 0 1 0 22.4,46.2" fill="none" stroke="#52b6f0" stroke-width="3.9"/>
<path d="M4.3,20.5 L15.5,32.2 L20.5,32.2 L20.5,25 L14.2,25 L14.2,19.4 L21.4,19.4 L21.4,12.8 L28.3,12.8 Q32,12 32,6.1 A20,20 0 0 0 4.3,20.5 Z" fill="#52b6f0"/>
<circle cx="32.8" cy="30.8" r="8.6" fill="none" stroke="#52b6f0" stroke-width="3.9"/>
<line x1="38.8" y1="37" x2="47" y2="45.4" stroke="#52b6f0" stroke-width="4.2"/></svg>
<div class="c lbl" style="left:1009.2px;top:1070px;">Web Search</div>
<svg class="ic" style="left:988px;top:1149px" width="42" height="30" viewBox="0 0 42 30"><text x="1.2" y="15.6" font-family="Liberation Sans" font-weight="normal" font-size="24.5" fill="#f0f0f0" textLength="37.8" lengthAdjust="spacingAndGlyphs">aws</text>
<path d="M0.5,19.8 Q20,30 38,20.5" fill="none" stroke="#f09a28" stroke-width="2.6" stroke-linecap="round"/>
<path d="M33.5,19 L39,19.6 L37.8,24.8" fill="none" stroke="#f09a28" stroke-width="2.4" stroke-linecap="round" stroke-linejoin="round"/></svg>
<svg class="ic" style="left:991.5px;top:1188.7px" width="36" height="36" viewBox="0 0 36 36"><circle cx="18" cy="18" r="18" fill="#3d86d8"/>
<path d="M13.5,7 L19,6.5 L10,25.4 L3.7,25.4 Z" fill="#fff"/>
<path d="M19,6.5 L32.2,28.4 L12,28.4 L23.5,25.2 L14.8,15 Z" fill="#fff"/></svg>
<div class="c lbl" style="left:1010px;top:1234.2px;">AWS &amp; Azure</div>
<svg width="1080" height="1273">
<path d="M197,198 H366" fill="none" stroke="#e4e4e4" stroke-width="2.2" stroke-dasharray="8 6"/>
<path d="M363.2,192.2 L369,198 L363.2,203.8" fill="none" stroke="#e4e4e4" stroke-width="2.5" stroke-linecap="round" stroke-linejoin="round"/>
<path d="M364,224 H196" fill="none" stroke="#e4e4e4" stroke-width="2.2" stroke-dasharray="8 6"/>
<path d="M198.8,218.2 L193,224 L198.8,229.8" fill="none" stroke="#e4e4e4" stroke-width="2.5" stroke-linecap="round" stroke-linejoin="round"/>
<path d="M517,288 V319" fill="none" stroke="#e4e4e4" stroke-width="2.2" stroke-dasharray="8 6"/>
<path d="M511.2,316.2 L517,322 L522.8,316.2" fill="none" stroke="#e4e4e4" stroke-width="2.5" stroke-linecap="round" stroke-linejoin="round"/>
<path d="M561,321 V284" fill="none" stroke="#e4e4e4" stroke-width="2.2" stroke-dasharray="8 6"/>
<path d="M555.2,286.8 L561,281 L566.8,286.8" fill="none" stroke="#e4e4e4" stroke-width="2.5" stroke-linecap="round" stroke-linejoin="round"/>
<path d="M649,363 H786" fill="none" stroke="#e4e4e4" stroke-width="2.2" stroke-dasharray="8 6"/>
<path d="M783.2,357.2 L789,363 L783.2,368.8" fill="none" stroke="#e4e4e4" stroke-width="2.5" stroke-linecap="round" stroke-linejoin="round"/>
<path d="M836,409 V433 Q836,441 828,441 H559 Q551,441 551,433 V410" fill="none" stroke="#e4e4e4" stroke-width="2.2" stroke-dasharray="8 6"/>
<path d="M545.2,412.8 L551,407 L556.8,412.8" fill="none" stroke="#e4e4e4" stroke-width="2.5" stroke-linecap="round" stroke-linejoin="round"/>
<path d="M903,411 V463" fill="none" stroke="#e4e4e4" stroke-width="2.2" stroke-dasharray="8 6"/>
<path d="M897.2,460.2 L903,466 L908.8,460.2" fill="none" stroke="#e4e4e4" stroke-width="2.5" stroke-linecap="round" stroke-linejoin="round"/>
<path d="M433,355 H141 Q133,355 133,363 V495" fill="none" stroke="#e4e4e4" stroke-width="2.2" stroke-dasharray="8 6"/>
<path d="M127.2,492.2 L133,498 L138.8,492.2" fill="none" stroke="#e4e4e4" stroke-width="2.5" stroke-linecap="round" stroke-linejoin="round"/>
<path d="M305,560 H481 Q489,560 489,552 V407" fill="none" stroke="#e4e4e4" stroke-width="2.2" stroke-dasharray="8 6"/>
<path d="M483.2,409.8 L489,404 L494.8,409.8" fill="none" stroke="#e4e4e4" stroke-width="2.5" stroke-linecap="round" stroke-linejoin="round"/>
<path d="M197,794 H366" fill="none" stroke="#e4e4e4" stroke-width="2.2" stroke-dasharray="8 6"/>
<path d="M363.2,788.2 L369,794 L363.2,799.8" fill="none" stroke="#e4e4e4" stroke-width="2.5" stroke-linecap="round" stroke-linejoin="round"/>
<path d="M364,820 H196" fill="none" stroke="#e4e4e4" stroke-width="2.2" stroke-dasharray="8 6"/>
<path d="M198.8,814.2 L193,820 L198.8,825.8" fill="none" stroke="#e4e4e4" stroke-width="2.5" stroke-linecap="round" stroke-linejoin="round"/>
<path d="M450,976 V880" fill="none" stroke="#e4e4e4" stroke-width="2.2" stroke-dasharray="8 6"/>
<path d="M444.2,882.8 L450,877 L455.8,882.8" fill="none" stroke="#e4e4e4" stroke-width="2.5" stroke-linecap="round" stroke-linejoin="round"/>
<path d="M487,884 V978" fill="none" stroke="#e4e4e4" stroke-width="2.2" stroke-dasharray="8 6"/>
<path d="M481.2,975.2 L487,981 L492.8,975.2" fill="none" stroke="#e4e4e4" stroke-width="2.5" stroke-linecap="round" stroke-linejoin="round"/>
<path d="M310,1005 H345" fill="none" stroke="#e4e4e4" stroke-width="2.2" stroke-dasharray="8 6"/>
<path d="M342.2,999.2 L348,1005 L342.2,1010.8" fill="none" stroke="#e4e4e4" stroke-width="2.5" stroke-linecap="round" stroke-linejoin="round"/>
<path d="M346,1042 H307" fill="none" stroke="#e4e4e4" stroke-width="2.2" stroke-dasharray="8 6"/>
<path d="M309.8,1036.2 L304,1042 L309.8,1047.8" fill="none" stroke="#e4e4e4" stroke-width="2.5" stroke-linecap="round" stroke-linejoin="round"/>
<path d="M562,1037 H697" fill="none" stroke="#e4e4e4" stroke-width="2.2" stroke-dasharray="8 6"/>
<path d="M694.2,1031.2 L700,1037 L694.2,1042.8" fill="none" stroke="#e4e4e4" stroke-width="2.5" stroke-linecap="round" stroke-linejoin="round"/>
<path d="M697,898 H676 Q669,898 669,905 V1181 Q669,1188 676,1188 H697" fill="none" stroke="#e4e4e4" stroke-width="2.2" stroke-dasharray="8 6"/>
<path d="M694.2,892.2 L700,898 L694.2,903.8" fill="none" stroke="#e4e4e4" stroke-width="2.5" stroke-linecap="round" stroke-linejoin="round"/>
<path d="M694.2,1182.2 L700,1188 L694.2,1193.8" fill="none" stroke="#e4e4e4" stroke-width="2.5" stroke-linecap="round" stroke-linejoin="round"/>
<path d="M785,909 H827" fill="none" stroke="#e4e4e4" stroke-width="2.2" stroke-dasharray="8 6"/>
<path d="M824.2,903.2 L830,909 L824.2,914.8" fill="none" stroke="#e4e4e4" stroke-width="2.5" stroke-linecap="round" stroke-linejoin="round"/>
<path d="M896,909 H973" fill="none" stroke="#e4e4e4" stroke-width="2.2" stroke-dasharray="8 6"/>
<path d="M970.2,903.2 L976,909 L970.2,914.8" fill="none" stroke="#e4e4e4" stroke-width="2.5" stroke-linecap="round" stroke-linejoin="round"/>
<path d="M785,1042 H827" fill="none" stroke="#e4e4e4" stroke-width="2.2" stroke-dasharray="8 6"/>
<path d="M824.2,1036.2 L830,1042 L824.2,1047.8" fill="none" stroke="#e4e4e4" stroke-width="2.5" stroke-linecap="round" stroke-linejoin="round"/>
<path d="M896,1042 H973" fill="none" stroke="#e4e4e4" stroke-width="2.2" stroke-dasharray="8 6"/>
<path d="M970.2,1036.2 L976,1042 L970.2,1047.8" fill="none" stroke="#e4e4e4" stroke-width="2.5" stroke-linecap="round" stroke-linejoin="round"/>
<path d="M785,1180 H827" fill="none" stroke="#e4e4e4" stroke-width="2.2" stroke-dasharray="8 6"/>
<path d="M824.2,1174.2 L830,1180 L824.2,1185.8" fill="none" stroke="#e4e4e4" stroke-width="2.5" stroke-linecap="round" stroke-linejoin="round"/>
<path d="M896,1180 H973" fill="none" stroke="#e4e4e4" stroke-width="2.2" stroke-dasharray="8 6"/>
<path d="M970.2,1174.2 L976,1180 L970.2,1185.8" fill="none" stroke="#e4e4e4" stroke-width="2.5" stroke-linecap="round" stroke-linejoin="round"/>
<path d="M256,1124 V1094 Q256,1087 263,1087 H370 Q377,1087 377,1080 V1069" fill="none" stroke="#e4e4e4" stroke-width="2.2" stroke-dasharray="8 6"/>
<path d="M371.2,1071.8 L377,1066 L382.8,1071.8" fill="none" stroke="#e4e4e4" stroke-width="2.5" stroke-linecap="round" stroke-linejoin="round"/>
<path d="M544,1124 V1094 Q544,1087 537,1087 H430 Q423,1087 423,1080 V1069" fill="none" stroke="#e4e4e4" stroke-width="2.2" stroke-dasharray="8 6"/>
<path d="M417.2,1071.8 L423,1066 L428.8,1071.8" fill="none" stroke="#e4e4e4" stroke-width="2.5" stroke-linecap="round" stroke-linejoin="round"/>
</svg>
</body></html>
